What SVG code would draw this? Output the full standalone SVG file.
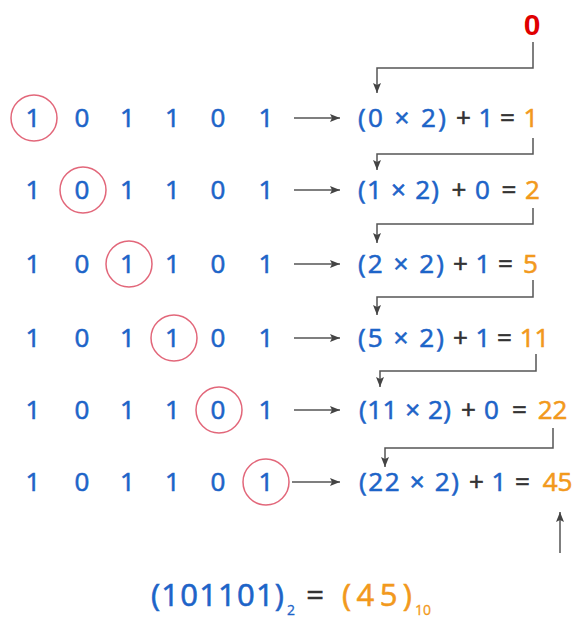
<svg xmlns="http://www.w3.org/2000/svg" width="578" height="619" viewBox="0 0 578 619">
<style>
text{font-family:"Open Sans","Noto Sans","DejaVu Sans",sans-serif;font-size:26px;font-weight:500;stroke-width:0.6}
.b{fill:#1d64c8;stroke:#1d64c8}
.o{fill:#f2991c;stroke:#f2991c}
.k{fill:#333333;stroke:#333333}
.d{text-anchor:middle;fill:#1d64c8;stroke:#1d64c8}
.m{text-anchor:middle}
.c{fill:none;stroke:#e2677a;stroke-width:1.5}
.ln{fill:none;stroke:#555555;stroke-width:1.5}
.big{font-size:31px}
.sub{font-size:14px;stroke-width:0.3}
</style>
<defs>
<marker id="ah" markerUnits="userSpaceOnUse" markerWidth="12" markerHeight="10" refX="10" refY="4" orient="auto">
<path d="M0,0 L10,4 L0,8 L2,4 z" fill="#444444"/>
</marker>
</defs>

<g id="start">
<text x="532" y="35" text-anchor="middle" style="font-family:'Liberation Sans',Arial,sans-serif;font-weight:bold;font-size:30px;stroke:none" fill="#e00000">0</text>
</g>

<g id="row1">
<circle class="c" cx="34" cy="118" r="23"/>
<text y="127"><tspan class="d" x="33">1</tspan><tspan class="d" x="82">0</tspan><tspan class="d" x="127.5">1</tspan><tspan class="d" x="172.5">1</tspan><tspan class="d" x="218">0</tspan><tspan class="d" x="266">1</tspan></text>
<text y="127"><tspan class="b" x="358" textLength="88" lengthAdjust="spacing">(0 × 2)</tspan><tspan class="k m" x="463.5">+</tspan><tspan class="b m" x="486">1</tspan><tspan class="k m" x="507.5">=</tspan><tspan class="o m" x="531">1</tspan></text>
</g>

<g id="row2">
<circle class="c" cx="83" cy="190" r="23"/>
<text y="199"><tspan class="d" x="33">1</tspan><tspan class="d" x="82">0</tspan><tspan class="d" x="127.5">1</tspan><tspan class="d" x="172.5">1</tspan><tspan class="d" x="218">0</tspan><tspan class="d" x="266">1</tspan></text>
<text y="199"><tspan class="b" x="358" textLength="81" lengthAdjust="spacing">(1 × 2)</tspan><tspan class="k m" x="459">+</tspan><tspan class="b m" x="482.5">0</tspan><tspan class="k m" x="509">=</tspan><tspan class="o m" x="532.5">2</tspan></text>
</g>

<g id="row3">
<circle class="c" cx="129" cy="264" r="23"/>
<text y="273"><tspan class="d" x="33">1</tspan><tspan class="d" x="82">0</tspan><tspan class="d" x="127.5">1</tspan><tspan class="d" x="172.5">1</tspan><tspan class="d" x="218">0</tspan><tspan class="d" x="266">1</tspan></text>
<text y="273"><tspan class="b" x="358" textLength="86" lengthAdjust="spacing">(2 × 2)</tspan><tspan class="k m" x="460.5">+</tspan><tspan class="b m" x="483">1</tspan><tspan class="k m" x="505.5">=</tspan><tspan class="o m" x="530.5">5</tspan></text>
</g>

<g id="row4">
<circle class="c" cx="174" cy="338" r="23"/>
<text y="347"><tspan class="d" x="33">1</tspan><tspan class="d" x="82">0</tspan><tspan class="d" x="127.5">1</tspan><tspan class="d" x="172.5">1</tspan><tspan class="d" x="218">0</tspan><tspan class="d" x="266">1</tspan></text>
<text y="347"><tspan class="b" x="358" textLength="86" lengthAdjust="spacing">(5 × 2)</tspan><tspan class="k m" x="460.5">+</tspan><tspan class="b m" x="483">1</tspan><tspan class="k m" x="504.5">=</tspan><tspan class="o m" x="534.5">11</tspan></text>
</g>

<g id="row5">
<circle class="c" cx="219" cy="410" r="23"/>
<text y="419"><tspan class="d" x="33">1</tspan><tspan class="d" x="82">0</tspan><tspan class="d" x="127.5">1</tspan><tspan class="d" x="172.5">1</tspan><tspan class="d" x="218">0</tspan><tspan class="d" x="266">1</tspan></text>
<text y="419"><tspan class="b" x="359" textLength="92" lengthAdjust="spacing">(11 × 2)</tspan><tspan class="k m" x="468.5">+</tspan><tspan class="b m" x="491.5">0</tspan><tspan class="k m" x="519.5">=</tspan><tspan class="o m" x="552.5">22</tspan></text>
</g>

<g id="row6">
<circle class="c" cx="266" cy="482" r="23"/>
<text y="491"><tspan class="d" x="33">1</tspan><tspan class="d" x="82">0</tspan><tspan class="d" x="127.5">1</tspan><tspan class="d" x="172.5">1</tspan><tspan class="d" x="218">0</tspan><tspan class="d" x="266">1</tspan></text>
<text y="491"><tspan class="b" x="359" textLength="100" lengthAdjust="spacing">(22 × 2)</tspan><tspan class="k m" x="476.5">+</tspan><tspan class="b m" x="499">1</tspan><tspan class="k m" x="522.5">=</tspan><tspan class="o m" x="557.5">45</tspan></text>
</g>

<g id="result">
<text y="606" class="big"><tspan class="b" x="151" textLength="133" lengthAdjust="spacing">(101101)</tspan></text>
<text x="287" y="615" class="sub b">2</text>
<text x="315" y="606" class="big k m">=</text>
<text y="606" class="big"><tspan class="o" x="342" textLength="70" lengthAdjust="spacing">(45)</tspan></text>
<text x="415" y="615" class="sub o">10</text>
</g>

<g id="connectors">
<line class="ln" x1="294" y1="118" x2="340" y2="118" marker-end="url(#ah)"/>
<line class="ln" x1="294" y1="190" x2="340" y2="190" marker-end="url(#ah)"/>
<line class="ln" x1="294" y1="264" x2="340" y2="264" marker-end="url(#ah)"/>
<line class="ln" x1="294" y1="338" x2="340" y2="338" marker-end="url(#ah)"/>
<line class="ln" x1="294" y1="410" x2="340" y2="410" marker-end="url(#ah)"/>
<line class="ln" x1="292" y1="482" x2="340" y2="482" marker-end="url(#ah)"/>
<path class="ln" d="M533,42 V68 H377 V93" marker-end="url(#ah)"/>
<path class="ln" d="M533,138 V154 H377 V170" marker-end="url(#ah)"/>
<path class="ln" d="M533,208 V224 H377 V243" marker-end="url(#ah)"/>
<path class="ln" d="M533,280 V297 H377 V315" marker-end="url(#ah)"/>
<path class="ln" d="M536,354 V371 H380 V387" marker-end="url(#ah)"/>
<path class="ln" d="M553,428 V448 H385 V467" marker-end="url(#ah)"/>
<line class="ln" x1="560" y1="553" x2="560" y2="512" marker-end="url(#ah)"/>
</g>
</svg>
